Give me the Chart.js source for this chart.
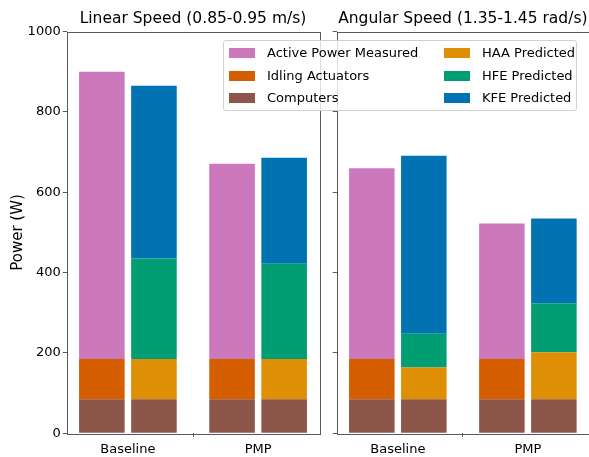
<!DOCTYPE html>
<html>
<head>
<meta charset="utf-8">
<script src="https://cdn.jsdelivr.net/npm/chart.js@4/dist/chart.umd.min.js"></script>
<style>
  html, body { margin: 0; padding: 0; background: #fff; }
  #wrap { position: relative; width: 589px; height: 457px; overflow: hidden; font-family: "DejaVu Sans", sans-serif; }
  canvas { position: absolute; top: 0; }
  #legend {
    position: absolute; left: 223px; top: 40px; width: 354px; height: 71px;
    background: rgba(255,255,255,0.8); border: 1px solid #d0d0d0; border-radius: 3px;
    box-sizing: border-box;
  }
  .item { position: absolute; height: 16px; font-size: 13px; line-height: 16px; color: #000; white-space: nowrap; }
  .sw { position: absolute; left: 0; top: 3px; width: 26px; height: 10px; }
  .lbl { position: absolute; left: 38px; top: 0; }
</style>
</head>
<body>
<div id="wrap">
  <canvas id="linear" width="330" height="457" style="left:0"></canvas>
  <canvas id="angular" width="259" height="457" style="left:330px"></canvas>
  <div id="legend"></div>
</div>
<script>
// Test conditions on the x axis
const categories = ['Baseline', 'PMP'];

// Linear speed run (W)
const linComputers = [85, 85];
const linIdling    = [100, 100];
const linActive    = [715, 486];
const linHAA       = [100, 100];
const linHFE       = [250, 237];
const linKFE       = [430, 264];

// Angular speed run (W)
const angComputers = [85, 85];
const angIdling    = [100, 100];
const angActive    = [475, 337];
const angHAA       = [79, 117];
const angHFE       = [84, 122];
const angKFE       = [443, 211];

const yTicks = [0, 200, 400, 600, 800, 1000];

const COLORS = {
  active: '#CC78BC',
  idling: '#D55E00',
  computers: '#8C564B',
  haa: '#DE8F05',
  hfe: '#029E73',
  kfe: '#0173B2'
};

const FONT = 'DejaVu Sans';
const SPINE = '#5a5a5a';

function points(vals) {
  return vals.map((v, i) => ({ x: i, y: v }));
}

function makeDatasets(comp, idle, active, haa, hfe, kfe) {
  const ds = (label, vals, color, stack) => ({
    label, data: points(vals), backgroundColor: color, stack,
    borderWidth: 0, categoryPercentage: 0.8, barPercentage: 0.875
  });
  return [
    ds('Computers', comp, COLORS.computers, 'measured'),
    ds('Idling Actuators', idle, COLORS.idling, 'measured'),
    ds('Active Power Measured', active, COLORS.active, 'measured'),
    ds('Computers', comp, COLORS.computers, 'predicted'),
    ds('HAA Predicted', haa, COLORS.haa, 'predicted'),
    ds('HFE Predicted', hfe, COLORS.hfe, 'predicted'),
    ds('KFE Predicted', kfe, COLORS.kfe, 'predicted')
  ];
}

// axes frame on all four sides
const frame = {
  id: 'frame',
  afterDatasetsDraw(chart) {
    const a = chart.chartArea, ctx = chart.ctx;
    ctx.save();
    ctx.strokeStyle = SPINE;
    ctx.lineWidth = 1;
    ctx.strokeRect(Math.round(a.left) + 0.5, Math.round(a.top) + 0.5,
                   Math.round(a.right - a.left), Math.round(a.bottom - a.top));
    ctx.restore();
  }
};

function makeChart(id, title, datasets, opts) {
  return new Chart(document.getElementById(id), {
    type: 'bar',
    data: { datasets },
    plugins: [frame],
    options: {
      responsive: false,
      animation: false,
      devicePixelRatio: 1,
      layout: { padding: { left: 0, right: opts.padRight, top: 0, bottom: 0 } },
      plugins: {
        legend: { display: false },
        tooltip: { enabled: false },
        title: {
          display: true, text: title, fullSize: false, color: '#000',
          font: { family: FONT, size: 15.5, weight: 'normal' },
          padding: { top: 10, bottom: 3 }
        }
      },
      scales: {
        x: {
          type: 'linear', min: -0.47, max: 1.47, offset: false,
          grid: { drawOnChartArea: false, drawTicks: true, tickLength: 4, tickColor: SPINE },
          border: { display: false },
          afterBuildTicks: s => { s.ticks = categories.map((_, i) => ({ value: i })); },
          afterFit: s => { s.height = 457 - 433.3; },
          ticks: {
            color: '#000', padding: 5, maxRotation: 0,
            font: { family: FONT, size: 13 },
            callback: v => categories[v]
          }
        },
        y: {
          type: 'linear', min: 0, max: 1000, stacked: true,
          grid: { drawOnChartArea: false, drawTicks: true, tickLength: 4, tickColor: SPINE },
          border: { display: false },
          afterBuildTicks: s => { s.ticks = yTicks.map(v => ({ value: v })); },
          afterFit: s => { s.width = opts.yWidth; },
          ticks: {
            display: opts.showY, color: '#000', padding: 2,
            font: { family: FONT, size: 13 },
            callback: v => String(v)
          },
          title: {
            display: opts.showY, text: 'Power (W)', color: '#000',
            font: { family: FONT, size: 15 }, padding: { top: 9, bottom: 0 }
          }
        }
      }
    }
  });
}

makeChart('linear', 'Linear Speed (0.85-0.95 m/s)',
  makeDatasets(linComputers, linIdling, linActive, linHAA, linHFE, linKFE),
  { padRight: 330 - 319.3, yWidth: 66.7, showY: true });

makeChart('angular', 'Angular Speed (1.35-1.45 rad/s)',
  makeDatasets(angComputers, angIdling, angActive, angHAA, angHFE, angKFE),
  { padRight: 0, yWidth: 6.7, showY: false });

// legend shared by both panels
const legendItems = [
  ['Active Power Measured', COLORS.active, 0, 0],
  ['Idling Actuators', COLORS.idling, 0, 1],
  ['Computers', COLORS.computers, 0, 2],
  ['HAA Predicted', COLORS.haa, 1, 0],
  ['HFE Predicted', COLORS.hfe, 1, 1],
  ['KFE Predicted', COLORS.kfe, 1, 2]
];
const legend = document.getElementById('legend');
legendItems.forEach(([text, color, col, row]) => {
  const it = document.createElement('div');
  it.className = 'item';
  it.style.left = (col === 0 ? 5 : 220) + 'px';
  it.style.top = (4 + row * 22.5) + 'px';
  it.innerHTML = '<span class="sw" style="background:' + color + '"></span><span class="lbl">' + text + '</span>';
  legend.appendChild(it);
});
</script>
</body>
</html>
